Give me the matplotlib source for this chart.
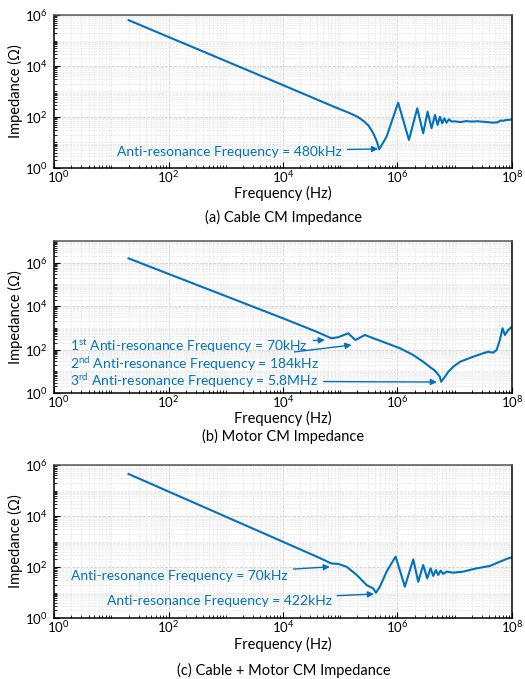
import matplotlib
matplotlib.use("Agg")
import matplotlib.pyplot as plt
from matplotlib.ticker import FixedLocator, LogLocator, NullFormatter
from matplotlib.transforms import ScaledTranslation
import numpy as np

plt.rcParams['font.family'] = ['Lato', 'DejaVu Sans']
plt.rcParams['mathtext.fontset'] = 'custom'
plt.rcParams['mathtext.rm'] = 'Lato'
plt.rcParams['mathtext.it'] = 'Lato:italic'
plt.rcParams['mathtext.bf'] = 'Lato:bold'

BLUE = '#0072BD'

# (a) cable CM impedance
f_cable = [20, 1.0e4, 6.6e4, 1.0e5, 1.48e5, 2.04e5, 2.53e5, 3.16e5, 3.78e5, 4.37e5,
           4.8e5, 6.47e5, 1.03e6, 1.59e6, 2.22e6, 2.82e6, 3.37e6, 3.95e6, 4.52e6,
           5.04e6, 5.52e6, 6.07e6, 6.58e6, 7.23e6, 7.94e6, 8.83e6, 1.0e7, 1.26e7,
           1.58e7, 2.0e7, 2.51e7, 3.16e7, 3.98e7, 4.68e7, 5.62e7, 6.3e7, 7.08e7,
           7.94e7, 1.0e8]
z_cable = [6.3e5, 1.78e3, 295, 200, 141, 100, 71, 45, 23, 11,
           5.4, 17, 363, 12.6, 219, 23, 162, 36, 120,
           49, 102, 56, 89, 60, 81, 66, 68, 63,
           69, 66, 68, 65, 62, 60, 62, 72, 71,
           76, 79]

# (b) motor CM impedance
f_motor = [20, 1.0e4, 3.87e4, 7.0e4, 9.3e4, 1.38e5, 1.84e5, 2.7e5, 4.6e5,
           1.11e6, 1.89e6, 2.82e6, 3.95e6, 4.4e6, 4.83e6, 5.52e6, 5.8e6,
           6.76e6, 7.73e6, 9.44e6, 1.24e7, 2.11e7, 3.16e7, 3.85e7, 4.71e7, 5.4e7,
           6.17e7, 6.87e7, 7.55e7, 8.63e7, 1.0e8]
z_motor = [1.58e6, 2.75e3, 660, 331, 372, 562, 275, 468, 275,
           115, 56, 27.5, 13.8, 11.5, 8.7, 5.6, 3.3,
           5.6, 9.5, 16.2, 27.5, 46.8, 67.6, 79, 72, 95,
           275, 955, 468, 794, 1.12e3]

# (c) cable + motor CM impedance
f_both = [20, 1.0e4, 3.87e4, 7.0e4, 9.3e4, 1.3e5, 1.94e5, 2.9e5, 3.78e5,
          4.22e5, 4.94e5, 6.47e5, 9.29e5, 1.35e6, 1.89e6, 2.31e6, 2.82e6, 3.32e6,
          3.8e6, 4.23e6, 4.71e6, 5.16e6, 5.68e6, 6.31e6, 7.23e6, 9.44e6, 1.41e7,
          2.42e7, 4.13e7, 6.17e7, 8.63e7, 1.0e8]
z_both = [4.47e5, 977, 257, 138, 132, 102, 49, 19.5, 14.5,
          9.8, 17, 66, 257, 17, 200, 26.3, 120, 36,
          89, 45, 76, 49, 72, 54, 66, 60, 66,
          89, 110, 162, 219, 240]

captions = ['(a) Cable CM Impedance', '(b) Motor CM Impedance',
            '(c) Cable + Motor CM Impedance']

fig = plt.figure(figsize=(5.25, 6.79), dpi=100)

# axes boxes in figure fractions (left, bottom, width, height)
boxes = [(0.103, 0.7526, 0.872, 0.2253),
         (0.103, 0.4212, 0.872, 0.2239),
         (0.103, 0.0898, 0.872, 0.2253)]
ylims = [(1, 1e6), (1, 1e7), (1, 1e6)]
caption_y = [0.680, 0.357, 0.013]
xlabel_y = [-0.165, -0.17, -0.17]


def setup_axes(ax, ylim, xl_y):
    ax.set_xscale('log')
    ax.set_yscale('log')
    ax.set_xlim(1, 1e8)
    ax.set_ylim(*ylim)
    ax.xaxis.set_major_locator(FixedLocator([1, 1e2, 1e4, 1e6, 1e8]))
    ax.yaxis.set_major_locator(FixedLocator([1, 1e2, 1e4, 1e6]))
    ax.xaxis.set_minor_locator(LogLocator(base=10, subs=np.arange(1, 10), numticks=100))
    ax.yaxis.set_minor_locator(LogLocator(base=10, subs=np.arange(1, 10), numticks=100))
    ax.xaxis.set_minor_formatter(NullFormatter())
    ax.yaxis.set_minor_formatter(NullFormatter())
    ax.set_xticklabels([r'$10^0$', r'$10^2$', r'$10^4$', r'$10^6$', r'$10^8$'])
    ax.set_yticklabels([r'$10^0$', r'$10^2$', r'$10^4$', r'$10^6$'])
    ax.tick_params(which='both', direction='in', labelsize=9.5)
    ax.tick_params(which='major', length=4, width=0.8)
    ax.tick_params(which='minor', length=2.5, width=0.6)
    ax.tick_params(axis='x', which='major', pad=0.5)
    ax.tick_params(axis='y', which='major', pad=4.5)
    ax.grid(True, which='major', ls='--', color='#cfcfcf', lw=0.6)
    ax.grid(True, which='minor', ls='--', color='#e6e6e6', lw=0.5)
    for s in ax.spines.values():
        s.set_linewidth(1.1)
    ax.spines['top'].set_color('#555555')
    ax.set_xlabel('Frequency (Hz)', fontsize=10.5, va='center')
    ax.xaxis.set_label_coords(0.5, xl_y)
    ax.set_ylabel('Impedance (Ω)', fontsize=10.5, va='center')
    ax.yaxis.set_label_coords(-0.085, 0.5)
    # nudge the corner 10^0 label on x so it clears the one on y
    first = ax.xaxis.get_major_ticks()[0].label1
    first.set_transform(first.get_transform() +
                        ScaledTranslation(3 / 72, 0, fig.dpi_scale_trans))


arrow = dict(arrowstyle='-|>', color=BLUE, lw=1.0, mutation_scale=9,
             shrinkA=2, shrinkB=0)

series = [(f_cable, z_cable), (f_motor, z_motor), (f_both, z_both)]
axes = []
for i, (box, yl, (f, z)) in enumerate(zip(boxes, ylims, series)):
    ax = fig.add_axes(box)
    setup_axes(ax, yl, xlabel_y[i])
    ax.plot(f, z, color=BLUE, lw=1.5)
    fig.text(0.54, caption_y[i], captions[i], ha='center', va='center', fontsize=10.5)
    axes.append(ax)

ax_a, ax_b, ax_c = axes
txt = dict(color=BLUE, fontsize=10, va='center', ha='left')

ax_a.annotate('Anti-resonance Frequency = 480kHz', xy=(4.6e5, 5.6),
              xytext=(12.6, 4.4), arrowprops=arrow, **txt)

ax_b.annotate(r'1$^{\mathrm{st}}$ Anti-resonance Frequency = 70kHz', xy=(5.4e4, 275),
              xytext=(1.9, 146), arrowprops=arrow, **txt)
ax_b.annotate(r'2$^{\mathrm{nd}}$ Anti-resonance Frequency = 184kHz', xy=(1.58e5, 162),
              xytext=(1.9, 21.7), arrowprops=arrow, **txt)
ax_b.annotate(r'3$^{\mathrm{rd}}$ Anti-resonance Frequency = 5.8MHz', xy=(4.9e6, 3.2),
              xytext=(1.9, 3.55), arrowprops=arrow, **txt)

ax_c.annotate('Anti-resonance Frequency = 70kHz', xy=(6.6e4, 102),
              xytext=(2.0, 44.5), arrowprops=arrow, **txt)
ax_c.annotate('Anti-resonance Frequency = 422kHz', xy=(3.9e5, 8.7),
              xytext=(8.3, 4.8), arrowprops=arrow, **txt)

fig.savefig('out.png', dpi=100)
